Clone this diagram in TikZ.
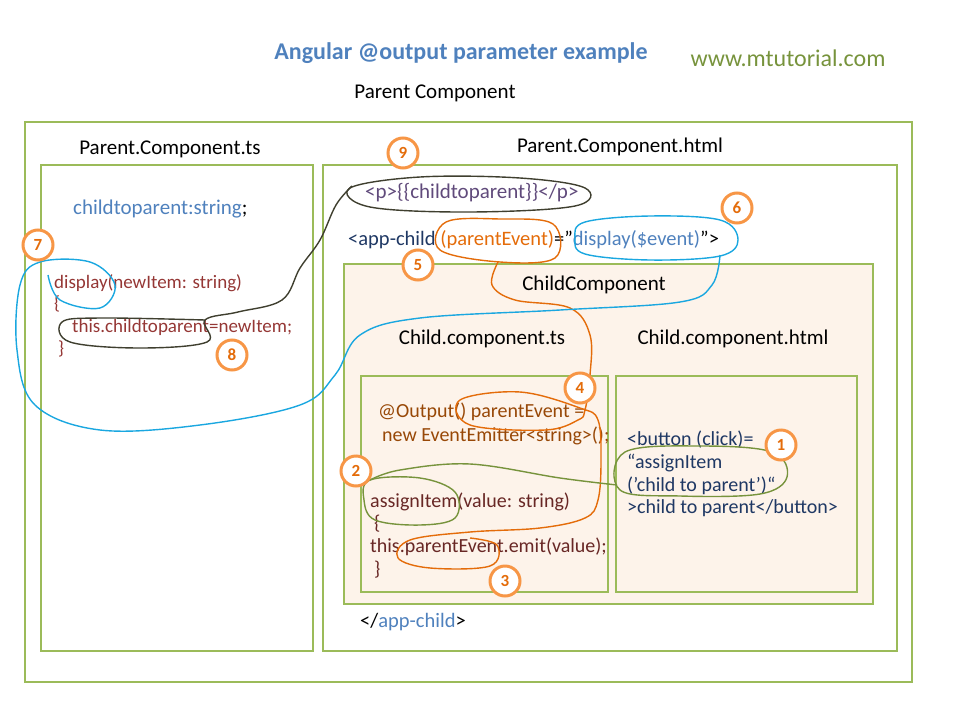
\documentclass[tikz,border=0pt]{standalone}
\usepackage{fontspec}
\setmainfont{Carlito}
\begin{document}
\definecolor{gr}{HTML}{9BBB59}
\definecolor{wg}{HTML}{77933C}
\definecolor{tb}{HTML}{4F81BD}
\definecolor{dr}{HTML}{953735}
\definecolor{br}{HTML}{984807}
\definecolor{nv}{HTML}{1F3864}
\definecolor{pu}{HTML}{604A7B}
\definecolor{orn}{HTML}{F79646}
\definecolor{ol}{HTML}{E46C0A}
\definecolor{cy}{HTML}{1AA7E0}
\definecolor{dk}{HTML}{3F3F2F}
\definecolor{cf}{HTML}{FDF3EA}
\begin{tikzpicture}[x=1pt,y=-1pt,
 box/.style={draw=gr,line width=2.5pt},
 t/.style={font=\fontsize{20}{22}\selectfont,inner sep=0pt,anchor=west},
 tl/.style={font=\fontsize{19}{21}\selectfont,inner sep=0pt,anchor=west},
 h/.style={font=\fontsize{21}{23}\selectfont,inner sep=0pt},
 num/.style={circle,draw=orn,line width=3pt,fill=white,minimum size=30pt,inner sep=0pt,text=ol,font=\fontsize{17}{19}\selectfont\bfseries},
 loop/.style={line width=1.4pt,smooth cycle,tension=0.6},
 tail/.style={line width=1.4pt,smooth,tension=0.6}]
\useasboundingbox (0,0) rectangle (960,720);
\node[h,text=tb,font=\fontsize{24}{26}\selectfont\bfseries] (title) at (461,53) {Angular @output parameter example};
\node[h,text=wg,font=\fontsize{24}{26}\selectfont] (web) at (788,58) {www.mtutorial.com};
\node[h] (pc) at (435,93) {Parent Component};
\draw[box] (25,122) rectangle (912,682);
\draw[box,line width=2pt] (41,165) rectangle (313,651);
\draw[box,line width=2pt] (323,165) rectangle (897,651);
\draw[box,fill=cf,line width=2pt] (344,264) rectangle (873,604);
\draw[box,line width=2pt] (361,376) rectangle (608,592);
\draw[box,line width=2pt] (616,376) rectangle (857,592);
\node[h] (pts) at (170,149) {Parent.Component.ts};
\node[h] (phtml) at (620,147) {Parent.Component.html};
\node[h] (cc) at (594,285) {ChildComponent};
\node[h] (cts) at (482,339) {Child.component.ts};
\node[h] (chtml) at (733,339) {Child.component.html};
% left
\node[t,font=\fontsize{21}{23}\selectfont] (ctp) at (73,209) {\textcolor{tb}{childtoparent:string};};
\node[tl,text=dr] (disp) at (54,283) {display(newItem: string)};
\node[tl,text=dr] (b1) at (54,304) {\{};
\node[tl,text=dr] (assign) at (72,327) {this.childtoparent=newItem;};
\node[tl,text=dr] (b2) at (58,349) {\}};
% parent html
\node[t,text=pu,font=\fontsize{21}{23}\selectfont] (ptag) at (365,193) {<p>\{\{childtoparent\}\}</p>};
\node[t,font=\fontsize{20.5}{23}\selectfont] (app) at (348,240) {\textcolor{nv}{<app-child }\textcolor{ol}{(parentEvent)}="\textcolor{tb}{display(\$event)}">};
\node[t,font=\fontsize{20.5}{23}\selectfont] (appe) at (360,622) {</\textcolor{tb}{app-child}>};
% child ts
\node[t,text=br] (out1) at (378,412) {@Output() parentEvent =};
\node[t,text=br] (out2) at (382,436) {new EventEmitter<string>();};
\node[t,text=dr!70!black] (ai) at (370,502) {assignItem(value: string)};
\node[t,text=dr!70!black] (c1) at (374,524) {\{};
\node[t,text=dr!70!black] (emit) at (370,547) {this.parentEvent.emit(value);};
\node[t,text=dr!70!black] (c2) at (374,570) {\}};
% child html
\node[t,text=nv] (bt1) at (627,440) {<button (click)=};
\node[t,text=nv] (bt2) at (627,463) {“assignItem};
\node[t,text=nv] (bt3) at (627,486) {('child to parent')“};
\node[t,text=nv] (bt4) at (627,508) {>child to parent</button>};
% loops
\draw[dk,loop] plot coordinates {(350,188) (420,177) (520,178) (585,188) (575,206) (470,212) (370,207)};
\draw[dk,tail] plot coordinates {(352,186) (336,205) (320,240) (300,268) (282,300) (238,312) (205,320) (207,342) (140,348) (70,342) (62,322) (100,318) (205,320)};
\draw[ol,loop] plot coordinates {(446,222) (500,219) (553,224) (555,258) (500,262) (440,250)};
\draw[ol,tail] plot coordinates {(498,262) (492,285) (515,300) (570,308) (590,335) (590,375) (585,410) (578,420) (545,430) (470,425) (460,400) (520,392) (580,408) (598,420) (601,460) (598,500) (585,518) (540,528) (470,532) (410,540) (398,558) (430,568) (490,566) (497,545) (470,538)};
\draw[cy,loop] plot coordinates {(585,222) (650,216) (720,220) (738,240) (720,256) (650,260) (585,254) (575,238)};
\draw[cy,tail] plot coordinates {(720,255) (712,285) (680,302) (560,310) (420,318) (360,335) (335,375) (300,405) (200,425) (100,430) (35,405) (17,350) (20,285) (40,262) (90,262) (115,285) (100,308) (60,300) (48,275)};
\draw[wg,loop] plot coordinates {(625,452) (700,446) (772,452) (787,477) (760,494) (680,496) (620,490)};
\draw[wg,tail] plot coordinates {(617,485) (560,478) (470,464) (400,470) (370,480)};
\draw[wg,loop] plot coordinates {(370,480) (420,478) (455,492) (455,518) (420,525) (375,520) (364,500)};
% numbers
\node[num] (n1) at (781,445) {1};
\node[num] (n2) at (356,471) {2};
\node[num] (n3) at (505,581) {3};
\node[num] (n4) at (580,388) {4};
\node[num] (n5) at (418,265) {5};
\node[num] (n6) at (737,208) {6};
\node[num] (n7) at (38,245) {7};
\node[num] (n8) at (232,355) {8};
\node[num] (n9) at (403,153) {9};
\end{tikzpicture}
\end{document}
